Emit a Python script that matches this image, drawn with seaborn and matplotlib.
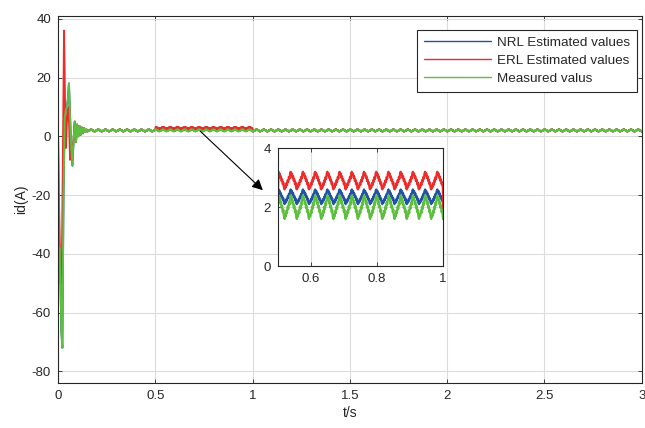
import numpy as np
import pandas as pd
import matplotlib
matplotlib.use("Agg")
import matplotlib.pyplot as plt
import seaborn as sns

# start-up transient
t_transient = [0.0, 0.003, 0.007, 0.012, 0.017, 0.022, 0.028, 0.034, 0.040,
               0.046, 0.051, 0.056, 0.062, 0.068, 0.074, 0.080, 0.086, 0.092,
               0.098, 0.104, 0.110, 0.116, 0.122, 0.128, 0.134, 0.140, 0.147]
meas_transient = [0.0, -50.0, -38.0, -48.0, -66.0, -72.0, -20.0, 6.0, 9.0,
                  10.0, 13.0, 18.0, 6.0, -4.0, -10.0, -1.0, 5.0, -2.0,
                  4.0, 0.0, 3.5, 0.5, 3.0, 1.0, 2.8, 1.5, 2.3]
t_erl_transient = [0.0, 0.004, 0.010, 0.015, 0.019, 0.025, 0.031, 0.036, 0.040,
                   0.046, 0.052, 0.057, 0.062, 0.068, 0.074, 0.080, 0.086, 0.092,
                   0.098, 0.104, 0.110, 0.116, 0.122, 0.128, 0.134, 0.140, 0.147]
erl_transient = [0.0, -20.0, -40.0, -48.0, -50.0, -5.0, 36.0, 10.0, -4.0,
                 6.0, 10.0, 4.0, -8.0, -3.0, -6.0, -1.0, 5.0, -2.0,
                 4.0, 0.0, 3.5, 0.5, 3.0, 1.0, 2.8, 1.5, 2.3]

# steady-state ripple: one cycle (normalised), level and amplitude per curve
ripple_period = 0.037
ripple_shape = [-1.0, -0.6, -0.78, -0.3, -0.5, 0.05, -0.15, 0.4, 0.2, 0.8,
                1.0, 0.62, 0.8, 0.3, 0.48, -0.05, 0.12, -0.42, -0.22, -0.82]
meas_level, meas_amp = 2.0, 0.4
nrl_level, nrl_amp = 2.35, 0.25
erl_level, erl_amp = 2.9, 0.3
est_window = (0.5, 1.0)

n_cycles = int(np.ceil((3.0 - 0.15) / ripple_period)) + 1
shape = np.tile(ripple_shape, n_cycles)
t_ss = 0.15 + np.arange(len(shape)) * ripple_period / len(ripple_shape)
keep = t_ss <= 3.0
t_ss, shape = t_ss[keep], shape[keep]

meas_ss = meas_level + meas_amp * shape
win = (t_ss >= est_window[0]) & (t_ss <= est_window[1])
nrl_ss = np.where(win, nrl_level + nrl_amp * shape, meas_ss)
erl_ss = np.where(win, erl_level + erl_amp * shape, meas_ss)

t_meas = np.concatenate([t_transient, t_ss])
meas = np.concatenate([meas_transient, meas_ss])
nrl = np.concatenate([meas_transient, nrl_ss])
t_erl = np.concatenate([t_erl_transient, t_ss])
erl = np.concatenate([erl_transient, erl_ss])

c_nrl, c_erl, c_meas = "#2152a3", "#ee2b2b", "#5dbf3e"

sns.set_style("ticks")
plt.rcParams["font.family"] = ["Liberation Sans", "DejaVu Sans"]
plt.rcParams["axes.unicode_minus"] = False
plt.rcParams["xtick.direction"] = "in"
plt.rcParams["ytick.direction"] = "in"


def draw(ax, lw):
    sns.lineplot(x=t_meas, y=nrl, color=c_nrl, lw=lw, ax=ax, estimator=None,
                 sort=False, label="NRL Estimated values")
    sns.lineplot(x=t_erl, y=erl, color=c_erl, lw=lw, ax=ax, estimator=None,
                 sort=False, label="ERL Estimated values")
    sns.lineplot(x=t_meas, y=meas, color=c_meas, lw=lw, ax=ax, estimator=None,
                 sort=False, label="Measured valus")


def style(ax, fs):
    ax.grid(True, color="#dcdcdc", lw=0.8)
    ax.set_axisbelow(True)
    ax.tick_params(top=True, right=True, labelsize=fs, length=3, width=0.6,
                   color="#262626", labelcolor="#262626", pad=5)
    for s in ax.spines.values():
        s.set_color("#262626")
        s.set_linewidth(0.8)


fig = plt.figure(figsize=(6.45, 4.28), dpi=100)
ax = fig.add_axes([0.09, 0.105, 0.905, 0.858])
draw(ax, 1.4)
ax.set_xlim(0, 3)
ax.set_ylim(-84, 41)
ax.set_xticks([0, 0.5, 1, 1.5, 2, 2.5, 3])
ax.set_xticklabels(["0", "0.5", "1", "1.5", "2", "2.5", "3"])
ax.set_yticks([-80, -60, -40, -20, 0, 20, 40])
ax.set_xlabel("t/s", fontsize=10, color="#262626", labelpad=3)
ax.set_ylabel("id(A)", fontsize=10, color="#262626", labelpad=3)
style(ax, 9.5)
leg = ax.legend(loc="upper right", bbox_to_anchor=(0.991, 0.962),
                fontsize=9.7, frameon=True, fancybox=False, framealpha=1,
                handlelength=5.0, borderaxespad=0, labelspacing=0.42,
                borderpad=0.5, handletextpad=0.4)
leg.get_frame().set_edgecolor("#262626")
leg.get_frame().set_linewidth(0.8)
for line in leg.get_lines():
    line.set_linewidth(1.0)

ax.annotate("", xy=(1.063, -19), xytext=(0.72, 2.4),
            arrowprops=dict(arrowstyle="-|>", color="k", lw=0.8,
                            mutation_scale=16))

axin = fig.add_axes([0.431, 0.378, 0.256, 0.276])
draw(axin, 1.6)
axin.get_legend().remove()
axin.set_xlim(0.5, 1)
axin.set_ylim(0, 4)
axin.set_xticks([0.6, 0.8, 1])
axin.set_xticklabels(["0.6", "0.8", "1"])
axin.set_yticks([0, 2, 4])
style(axin, 9.5)
axin.set_facecolor("white")

fig.savefig("out.png", dpi=100)
